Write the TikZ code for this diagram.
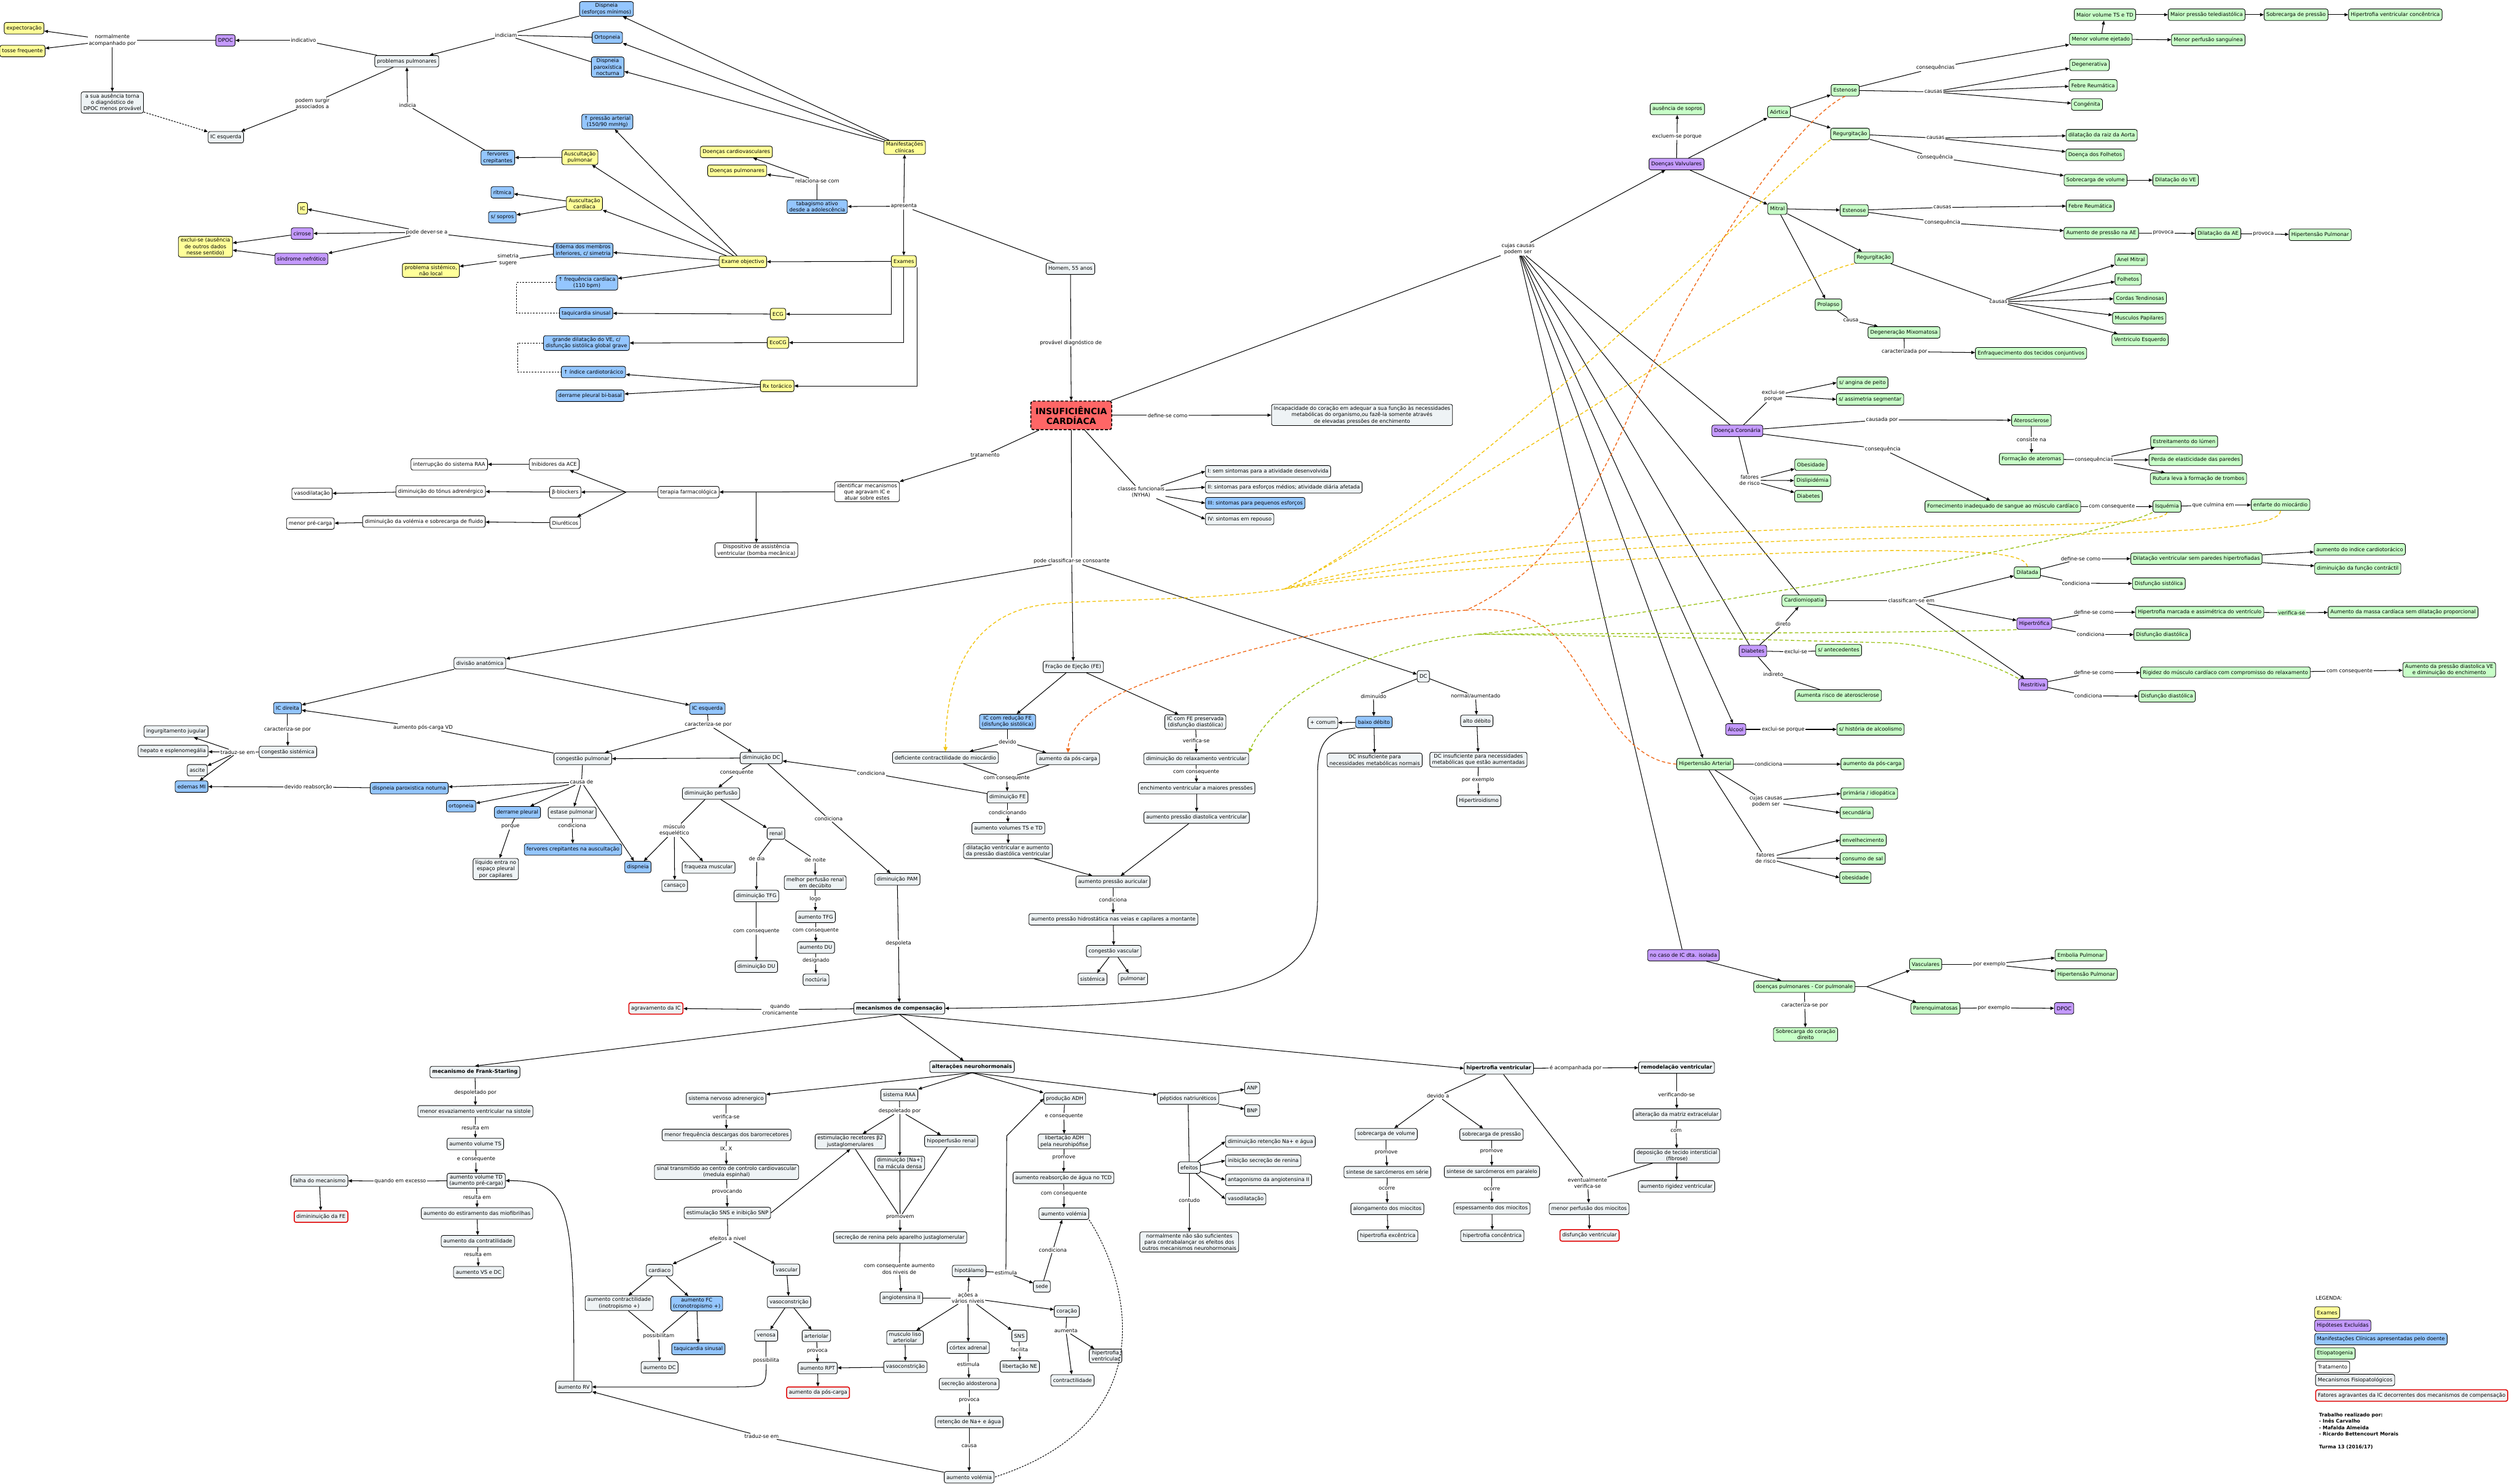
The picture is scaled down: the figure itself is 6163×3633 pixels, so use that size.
\documentclass[tikz,border=0pt]{standalone}
\usepackage{fontspec}
\setmainfont{DejaVu Sans}
\usetikzlibrary{arrows.meta,calc}
\definecolor{yel}{HTML}{FFFF99}
\definecolor{blu}{HTML}{94C6FF}
\definecolor{pur}{HTML}{C49AFF}
\definecolor{grn}{HTML}{C8FFC8}
\definecolor{gry}{HTML}{EEF3F5}
\definecolor{icred}{HTML}{FF6666}
\definecolor{agr}{HTML}{E00000}
\definecolor{dy}{HTML}{F2C40F}
\definecolor{dor}{HTML}{F06A1A}
\definecolor{dgr}{HTML}{9CC31A}
\newcommand\nff{\fontsize{9}{11}\selectfont}
\begin{document}
\begin{tikzpicture}[x=0.025cm,y=-0.025cm,
 nd/.style={draw,rounded corners=3.5pt,line width=0.9pt,align=center,font=\nff,inner xsep=4pt,inner ysep=3pt,minimum height=20pt},
 ye/.style={nd,fill=yel}, bl/.style={nd,fill=blu}, pu/.style={nd,fill=pur},
 gr/.style={nd,fill=grn}, gy/.style={nd,fill=gry}, wh/.style={nd,fill=white},
 rd/.style={nd,fill=gry,draw=agr,line width=1.6pt},
 bd/.style={font=\nff\bfseries},
 lb/.style={font=\nff,inner sep=1.5pt,align=center},
 ln/.style={line width=1.1pt},
 ar/.style={ln,-{Triangle[length=6.5pt,width=5.5pt]}},
 dsh/.style={ln,dash pattern=on 3pt off 2pt},
 tip/.style={-{Triangle[length=8pt,width=7pt]}},
 cy/.style={line width=1.5pt,dash pattern=on 6pt off 4pt,draw=dy},
 co/.style={line width=1.5pt,dash pattern=on 6pt off 4pt,draw=dor},
 cg/.style={line width=1.5pt,dash pattern=on 6pt off 4pt,draw=dgr}]
\fill[white] (0,0) rectangle (6163,3633);
\useasboundingbox (0,0) rectangle (6163,3633);

% ================= TOP LEFT =================
\node[ye] (expect) at (59,69) {expectoração};
\node[ye] (tosse) at (55,125) {tosse frequente};
\node[lb] (l01) at (275,99) {normalmente\\acompanhado por};
\node[pu] (dpoc) at (552,99) {DPOC};
\node[lb] (l02) at (743,99) {indicativo};
\node[gy] (probpulm) at (996,150) {problemas pulmonares};
\node[gy] (ausen) at (275,251) {a sua ausência torna\\o diagnóstico de\\DPOC menos provável};
\node[lb] (l03) at (765,253) {podem surgir\\associados a};
\node[lb] (l04) at (998,258) {indicia};
\node[gy] (icesq1) at (553,336) {IC esquerda};
\node[bl] (dispesf) at (1485,22) {Dispneia\\(esforços mínimos)};
\node[bl] (ortop) at (1487,92) {Ortopneia};
\node[bl] (dpn) at (1488,164) {Dispneia\\paroxística\\nocturna};
\node[lb] (l05) at (1239,86) {indiciam};
\node[bl] (pa) at (1487,298) {↑ pressão arterial\\(150/90 mmHg)};
\node[bl] (ferv) at (1219,386) {fervores\\crepitantes};
\node[ye] (auscp) at (1420,385) {Auscultação\\pulmonar};
\node[bl] (ritm) at (1230,471) {rítmica};
\node[bl] (ssop) at (1230,532) {s/ sopros};
\node[ye] (auscc) at (1431,498) {Auscultação\\cardíaca};
\node[ye] (ic) at (741,510) {IC};
\node[pu] (cirr) at (740,572) {cirrose};
\node[pu] (sindn) at (738,634) {síndrome nefrótico};
\node[ye] (excl) at (503,604) {exclui-se (ausência\\de outros dados\\nesse sentido)};
\node[lb] (l06) at (1045,569) {pode dever-se a};
\node[bl] (edema) at (1428,613) {Edema dos membros\\inferiores, c/ simetria};
\node[lb] (l07) at (1244,636) {simetria\\sugere};
\node[ye] (probsist) at (1055,662) {problema sistémico,\\não local};
\node[bl] (fc) at (1437,692) {↑ frequência cardíaca\\(110 bpm)};
\node[bl] (taqui) at (1435,767) {taquicardia sinusal};
\node[bl] (dilve1) at (1436,840) {grande dilatação do VE, c/\\disfunção sistólica global grave};
\node[bl] (ict) at (1453,911) {↑ índice cardiotorácico};
\node[bl] (derrbb) at (1445,969) {derrame pleural bi-basal};
\node[ye] (manif) at (2215,361) {Manifestações\\clínicas};
\node[ye] (dcv) at (1803,372) {Doenças cardiovasculares};
\node[ye] (dpulm) at (1805,418) {Doenças pulmonares};
\node[lb] (l08) at (2001,443) {relaciona-se com};
\node[bl] (tabag) at (2001,506) {tabagismo ativo\\desde a adolescência};
\node[lb] (l09) at (2213,505) {apresenta};
\node[ye] (exobj) at (1819,641) {Exame objectivo};
\node[ye] (exames) at (2213,640) {Exames};
\node[gy] (homem) at (2621,658) {Homem, 55 anos};
\node[ye] (ecg) at (1905,769) {ECG};
\node[ye] (ecocg) at (1905,839) {EcoCG};
\node[ye] (rx) at (1903,945) {Rx torácico};
\node[lb] (l10) at (2622,839) {provável diagnóstico de};

% ================= CENTER =================
\node[draw,dash pattern=on 5pt off 3pt,line width=1.8pt,rounded corners=4pt,fill=icred,font=\fontsize{15}{17}\selectfont\bfseries,align=center,minimum width=4.95cm,minimum height=1.75cm] (icm) at (2623,1017) {INSUFICIÊNCIA\\CARDÍACA};
\node[lb] (l11) at (2859,1017) {define-se como};
\node[gy] (incap) at (3335,1016) {Incapacidade do coração em adequar a sua função às necessidades\\metabólicas do organismo,ou fazê-la somente através\\de elevadas pressões de enchimento};
\node[lb] (l12) at (2412,1114) {tratamento};
\node[wh] (ident) at (2123,1204) {identificar mecanismos\\que agravam IC e\\atuar sobre estes};
\node[wh] (terapia) at (1686,1205) {terapia farmacológica};
\node[wh] (dispos) at (1852,1347) {Dispositivo de assistência\\ventricular (bomba mecânica)};
\node[wh] (iece) at (1357,1137) {Inibidores da ACE};
\node[wh] (iraa) at (1100,1137) {interrupção do sistema RAA};
\node[wh] (beta) at (1384,1205) {β-blockers};
\node[wh] (tonus) at (1079,1203) {diminuição do tónus adrenérgico};
\node[wh] (vasod) at (764,1209) {vasodilatação};
\node[wh] (diur) at (1384,1280) {Diuréticos};
\node[wh] (dvol) at (1038,1277) {diminuição da volémia e sobrecarga de fluido};
\node[wh] (prec) at (760,1282) {menor pré-carga};
\coordinate (br0) at (1533,1205);
\node[lb] (l13) at (2794,1205) {classes funcionais\\(NYHA)};
\node[gy,anchor=west] (c1) at (2951,1154) {I: sem sintomas para a atividade desenvolvida};
\node[gy,anchor=west] (c2) at (2951,1193) {II: sintomas para esforços médios; atividade diária afetada};
\node[bl,anchor=west] (c3) at (2951,1232) {III: sintomas para pequenos esforços};
\node[gy,anchor=west] (c4) at (2951,1271) {IV: sintomas em repouso};
\node[lb] (l14) at (2624,1374) {pode classificar-se consoante};
\node[gy] (divan) at (1175,1624) {divisão anatómica};
\node[gy] (fe) at (2628,1633) {Fração de Ejeção (FE)};
\node[gy] (dc) at (3485,1656) {DC};

% ================= LEFT MID =================
\node[bl] (icdir) at (704,1734) {IC direita};
\node[lb] (l15) at (704,1786) {caracteriza-se por};
\node[gy] (congs) at (705,1841) {congestão sistémica};
\node[lb] (l16) at (582,1842) {traduz-se em};
\node[gy] (ingur) at (431,1791) {ingurgitamento jugular};
\node[gy] (hepat) at (424,1839) {hepato e esplenomegália};
\node[gy] (ascite) at (483,1886) {ascite};
\node[bl] (edmi) at (469,1926) {edemas MI};
\node[lb] (l17) at (755,1927) {devido reabsorção};
\node[bl] (dpn2) at (1002,1930) {dispneia paroxistica noturna};
\node[lb] (l18) at (1036,1781) {aumento pós-carga VD};
\node[gy] (congp) at (1427,1858) {congestão pulmonar};
\node[lb] (l19) at (1424,1915) {causa de};
\node[bl] (ortop2) at (1129,1974) {ortopneia};
\node[bl] (derr) at (1267,1989) {derrame pleural};
\node[gy] (estase) at (1401,1990) {estase pulmonar};
\node[bl] (icesq2) at (1732,1735) {IC esquerda};
\node[lb] (l20) at (1734,1774) {caracteriza-se por};
\node[gy] (dimdc) at (1864,1856) {diminuição DC};
\node[lb] (l21) at (1804,1892) {consequente};
\node[gy] (dimperf) at (1741,1943) {diminuição perfusão};
\node[lb] (l22) at (2133,1893) {condiciona};
\node[bl] (icred) at (2467,1767) {IC com redução FE\\(disfunção sistólica)};
\node[gy] (icpres) at (2927,1768) {IC com FE preservada\\(disfunção diastólica)};
\node[lb] (l23) at (2467,1817) {devido};
\node[gy] (defc) at (2315,1855) {deficiente contractilidade do miocárdio};
\node[gy] (aposc) at (2615,1858) {aumento da pós-carga};
\node[lb] (l24) at (2465,1906) {com consequente};
\node[gy] (dimfe) at (2467,1952) {diminuição FE};
\node[lb] (l25) at (2467,1990) {condicionando};
\node[lb] (l26) at (2929,1813) {verifica-se};
\node[gy] (dimrel) at (2929,1858) {diminuição do relaxamento ventricular};
\node[lb] (l27) at (2929,1890) {com consequente};
\node[gy] (ench) at (2930,1930) {enchimento ventricular a maiores pressões};
\node[gy] (apdiast) at (2930,2002) {aumento pressão diastolica ventricular};

% DC
\node[lb] (l28) at (3363,1705) {diminuído};
\node[lb] (l29) at (3613,1705) {normal/aumentado};
\node[bl] (baixo) at (3364,1768) {baixo débito};
\node[gy] (comum) at (3239,1770) {+ comum};
\node[gy] (alto) at (3616,1765) {alto débito};
\node[gy] (dcins1) at (3366,1861) {DC insuficiente para\\necessidades metabólicas normais};
\node[gy] (dcins2) at (3620,1860) {DC insuficiente para necessidades\\metabólicas que estão aumentadas};
\node[lb] (l30) at (3619,1909) {por exemplo};
\node[gy] (hipert) at (3621,1961) {Hipertiroidismo};

% ================= RIGHT TOP (valvular) =================
\node[gr] (aussop) at (4107,267) {ausência de sopros};
\node[lb] (l31) at (4106,334) {excluem-se porque};
\node[pu] (valv) at (4105,402) {Doenças Valvulares};
\node[gr] (aort) at (4356,274) {Aórtica};
\node[gr] (estA) at (4518,221) {Estenose};
\node[gr] (regA) at (4530,328) {Regurgitação};
\node[gr] (mitral) at (4352,511) {Mitral};
\node[gr] (estM) at (4540,515) {Estenose};
\node[gr] (regM) at (4588,631) {Regurgitação};
\node[gr] (prol) at (4477,746) {Prolapso};
\node[lb] (l32) at (4532,784) {causa};
\node[gr] (degmix) at (4662,814) {Degeneração Mixomatosa};
\node[lb] (l33) at (4663,861) {caracterizada por};
\node[gr] (enfraq) at (4973,865) {Enfraquecimento dos tecidos conjuntivos};
\node[lb] (l34) at (3717,610) {cujas causas\\podem ser};
\node[gr,anchor=west] (angina) at (4497,937) {s/ angina de peito};
\node[gr,anchor=west] (assim) at (4496,978) {s/ assimetria segmentar};
\node[lb] (l35) at (4342,969) {exclui-se\\porque};
\node[gr] (maiorvol) at (5154,36) {Maior volume TS e TD};
\node[gr] (maiorp) at (5403,36) {Maior pressão telediastólica};
\node[gr] (sobrp) at (5622,36) {Sobrecarga de pressão};
\node[gr] (hipconc) at (5865,36) {Hipertrofia ventricular concêntrica};
\node[gr] (menorvol) at (5144,96) {Menor volume ejetado};
\node[gr] (menorperf) at (5407,98) {Menor perfusão sanguínea};
\node[lb] (l36) at (4739,166) {consequências};
\node[gr] (degen) at (5116,159) {Degenerativa};
\node[gr] (febre1) at (5125,209) {Febre Reumática};
\node[gr] (cong) at (5110,256) {Congénita};
\node[lb] (l37) at (4734,225) {causas};
\node[gr] (raiz) at (5146,331) {dilatação da raiz da Aorta};
\node[gr] (folh) at (5130,379) {Doença dos Folhetos};
\node[lb] (l38) at (4739,338) {causas};
\node[lb] (l39) at (4738,385) {consequência};
\node[gr] (sobrvol) at (5131,441) {Sobrecarga de volume};
\node[gr] (dilve) at (5327,441) {Dilatação do VE};
\node[gr] (febre2) at (5118,504) {Febre Reumática};
\node[lb] (l40) at (4756,508) {causas};
\node[lb] (l41) at (4756,545) {consequência};
\node[gr] (aumpae) at (5145,571) {Aumento de pressão na AE};
\node[lb] (l42) at (5297,571) {provoca};
\node[gr] (dilae) at (5431,572) {Dilatação da AE};
\node[lb] (l43) at (5542,573) {provoca};
\node[gr] (hpulm) at (5681,575) {Hipertensão Pulmonar};
\node[gr] (anel) at (5218,636) {Anel Mitral};
\node[gr] (folhetos) at (5211,684) {Folhetos};
\node[gr] (cordas) at (5240,730) {Cordas Tendinosas};
\node[gr] (musc) at (5238,779) {Musculos Papilares};
\node[gr] (ve) at (5240,832) {Ventriculo Esquerdo};
\node[lb] (l44) at (4893,739) {causas};

% ================= RIGHT MID (coronary, cardiomyopathy) =================
\node[pu] (dcor) at (4254,1055) {Doença Coronária};
\node[lb] (l45) at (4608,1028) {causada por};
\node[gr] (ateros) at (4974,1029) {Aterosclerose};
\node[lb] (l46) at (4974,1077) {consiste na};
\node[gr] (ateromas) at (4974,1124) {Formação de ateromas};
\node[lb] (l47) at (5127,1126) {consequências};
\node[gr] (estreit) at (5348,1081) {Estreitamento do lúmen};
\node[gr] (perda) at (5376,1126) {Perda de elasticidade das paredes};
\node[gr] (rutura) at (5383,1172) {Rutura leva à formação de trombos};
\node[lb] (l48) at (4610,1100) {consequência};
\node[gr] (fornec) at (4904,1240) {Fornecimento inadequado de sangue ao músculo cardíaco};
\node[lb] (l49) at (5171,1240) {com consequente};
\node[gr] (isq) at (5306,1240) {Isquémia};
\node[lb] (l50) at (5419,1237) {que culmina em};
\node[gr] (enfarte) at (5584,1236) {enfarte do miocárdio};
\node[gr] (obes) at (4434,1138) {Obesidade};
\node[gr] (dislip) at (4438,1177) {Dislipidémia};
\node[gr] (diab1) at (4428,1215) {Diabetes};
\node[lb] (l51) at (4284,1176) {fatores\\de risco};
\node[gr] (cardiom) at (4417,1471) {Cardiomiopatia};
\node[pu] (diab2) at (4292,1594) {Diabetes};
\node[lb] (l52) at (4366,1528) {direto};
\node[lb] (l53) at (4397,1596) {exclui-se};
\node[gr] (santec) at (4502,1592) {s/ antecedentes};
\node[lb] (l54) at (4342,1651) {indireto};
\node[gr] (aumrisco) at (4501,1703) {Aumenta risco de aterosclerose};
\node[pu] (alcool) at (4250,1786) {Álcool};
\node[lb] (l55) at (4366,1786) {exclui-se porque};
\node[gr,anchor=west] (shist) at (4497,1786) {s/ história de alcoolismo};
\node[gr] (hta) at (4175,1871) {Hipertensão Arterial};
\node[lb] (l56) at (4330,1871) {condiciona};
\node[gr,anchor=west] (aposcg) at (4507,1871) {aumento da pós-carga};
\node[lb] (l57) at (4324,1962) {cujas causas\\podem ser};
\node[gr,anchor=west] (prim) at (4507,1943) {primária / idiopática};
\node[gr,anchor=west] (secund) at (4505,1990) {secundária};
\node[lb] (l58) at (4680,1471) {classificam-se em};
\node[gr] (dilatada) at (4964,1402) {Dilatada};
\node[lb] (l59) at (5095,1368) {define-se como};
\node[gr] (dilvent) at (5378,1368) {Dilatação ventricular sem paredes hipertrofiadas};
\node[gr] (aumict) at (5778,1345) {aumento do indice cardiotorácico};
\node[gr] (dimfunc) at (5773,1392) {diminuição da função contráctil};
\node[lb] (l60) at (5083,1428) {condiciona};
\node[gr] (disfs) at (5286,1429) {Disfunção sistólica};
\node[pu] (hipertrof) at (4981,1527) {Hipertrófica};
\node[lb] (l61) at (5127,1499) {define-se como};
\node[gr] (hipmarc) at (5386,1499) {Hipertrofia marcada e assimétrica do ventrículo};
\node[lb,fill=grn] (l62) at (5611,1500) {verifica-se};
\node[gr] (aummassa) at (5884,1499) {Aumento da massa cardíaca sem dilatação proporcional};
\node[lb] (l63) at (5119,1554) {condiciona};
\node[gr] (disfd1) at (5294,1554) {Disfunção diastólica};
\node[pu] (restr) at (4978,1676) {Restritiva};
\node[lb] (l64) at (5127,1647) {define-se como};
\node[gr] (rigidez) at (5449,1647) {Rigidez do músculo cardíaco com compromisso do relaxamento};
\node[lb] (l65) at (5753,1643) {com consequente};
\node[gr] (aumpdve) at (5997,1640) {Aumento da pressão diastolica VE\\e diminuição do enchimento};
\node[lb] (l66) at (5113,1704) {condiciona};
\node[gr] (disfd2) at (5306,1705) {Disfunção diastólica};

% ================= BOTTOM =================
\node[lb] (l67) at (1250,2024) {porque};
\node[gy] (liq) at (1214,2128) {líquido entra no\\espaço pleural\\por capilares};
\node[lb] (l68) at (1401,2022) {condiciona};
\node[bl] (fervaus) at (1403,2080) {fervores crepitantes na auscultação};
\node[bl] (dispn) at (1562,2123) {dispneia};
\node[lb] (l69) at (1651,2033) {músculo\\esquelético};
\node[gy] (cansaco) at (1652,2169) {cansaço};
\node[gy] (fraq) at (1735,2124) {fraqueza muscular};
\node[gy] (renal) at (1900,2041) {renal};
\node[lb] (l70) at (1853,2103) {de dia};
\node[lb] (l71) at (1996,2105) {de noite};
\node[gy] (dimtfg) at (1852,2194) {diminuição TFG};
\node[gy] (melhor) at (1996,2161) {melhor perfusão renal\\em decúbito};
\node[lb] (l72) at (1996,2202) {logo};
\node[gy] (aumtfg) at (1997,2245) {aumento TFG};
\node[lb] (l73) at (1852,2280) {com consequente};
\node[lb] (l74) at (1997,2279) {com consequente};
\node[gy] (aumdu) at (1998,2320) {aumento DU};
\node[lb] (l75) at (1998,2352) {designado};
\node[gy] (noct) at (1998,2399) {noctúria};
\node[gy] (dimdu) at (1852,2367) {diminuição DU};
\node[lb] (l76) at (2029,2005) {condiciona};
\node[gy] (dimpam) at (2197,2153) {diminuição PAM};
\node[lb] (l77) at (2200,2310) {despoleta};
\node[gy,bd] (mecomp) at (2202,2469) {mecanismos de compensação};
\node[lb] (l78) at (1910,2472) {quando\\cronicamente};
\node[rd] (agrav) at (1606,2469) {agravamento da IC};
\node[gy] (aumvol) at (2469,2028) {aumento volumes TS e TD};
\node[gy] (dilv2) at (2468,2084) {dilatação ventricular e aumento\\da pressão diastólica ventricular};
\node[gy] (apaur) at (2725,2159) {aumento pressão auricular};
\node[lb] (l79) at (2725,2203) {condiciona};
\node[gy] (aphid) at (2726,2251) {aumento pressão hidrostática nas veias e capilares a montante};
\node[gy] (congv) at (2727,2329) {congestão vascular};
\node[gy] (sistem) at (2675,2397) {sistémica};
\node[gy] (pulmo) at (2774,2397) {pulmonar};
\node[gy,bd] (altn) at (2380,2612) {alterações neurohormonais};
\node[gy] (sna) at (1778,2690) {sistema nervoso adrenergico};
\node[gy] (sraa) at (2202,2681) {sistema RAA};
\node[gy] (padh) at (2607,2690) {produção ADH};
\node[gy] (pept) at (2909,2690) {péptidos natriuréticos};
\node[gy] (anp) at (3066,2664) {ANP};
\node[gy] (bnp) at (3066,2719) {BNP};
\node[lb] (l80) at (1778,2734) {verifica-se};
\node[gy] (menf) at (1779,2779) {menor frequência descargas dos barorrecetores};
\node[lb] (l81) at (1778,2814) {IX, X};
\node[gy] (sinal) at (1779,2870) {sinal transmitido ao centro de controlo cardiovascular\\(medula espinhal)};
\node[lb] (l82) at (1780,2918) {provocando};
\node[gy] (estsns) at (1781,2970) {estimulação SNS e inibição SNP};
\node[lb] (l83) at (1782,3033) {efeitos a nivel};
\node[gy] (cardiaco) at (1615,3110) {cardiaco};
\node[gy] (vascular) at (1926,3109) {vascular};
\node[gy] (aumcontr) at (1516,3191) {aumento contractilidade\\(inotropismo +)};
\node[bl] (aumfc) at (1706,3192) {aumento FC\\(cronotropismo +)};
\node[lb] (l84) at (1613,3271) {possibilitam};
\node[bl] (taqui2) at (1710,3303) {taquicardia sinusal};
\node[gy] (aumdc) at (1615,3348) {aumento DC};
\node[gy] (vasoc1) at (1932,3188) {vasoconstrição};
\node[gy] (venosa) at (1876,3270) {venosa};
\node[gy] (arteriolar) at (1999,3271) {arteriolar};
\node[lb] (l85) at (2001,3308) {provoca};
\node[lb] (l86) at (1876,3331) {possibilita};
\node[gy] (aumrpt) at (2002,3350) {aumento RPT};
\node[rd] (aposred) at (2003,3410) {aumento da pós-carga};
\node[gy] (aumrv) at (1405,3396) {aumento RV};
\node[lb] (l87) at (1865,3517) {traduz-se em};
\node[gy] (estb2) at (2082,2795) {estimulação recetores β2\\justaglomerulares};
\node[gy] (hipoperf) at (2329,2794) {hipoperfusão renal};
\node[lb] (l88) at (2203,2720) {despoletado por};
\node[gy] (dimna) at (2203,2848) {diminuição [Na+]\\na mácula densa};
\node[lb] (l89) at (2204,2980) {promovem};
\node[gy] (renina) at (2204,3030) {secreção de renina pelo aparelho justaglomerular};
\node[lb] (l90) at (2202,3107) {com consequente aumento\\dos niveis de};
\node[gy] (angio) at (2207,3178) {angiotensina II};
\node[lb] (l91) at (2370,3178) {ações a\\vários niveis};
\node[gy] (hipot) at (2373,3112) {hipotálamo};
\node[lb] (l92) at (2463,3116) {estimula};
\coordinate (bp1) at (2465,2781);
\node[gy] (sede) at (2551,3150) {sede};
\node[lb] (l93) at (2578,3061) {condiciona};
\node[gy] (coracao) at (2612,3211) {coração};
\node[lb] (l94) at (2610,3259) {aumenta};
\node[gy] (hipv2) at (2707,3320) {hipertrofia\\ventricular};
\node[gy] (contrat) at (2626,3380) {contractilidade};
\node[gy] (musliso) at (2216,3275) {musculo liso\\arteriolar};
\node[gy] (vasoc2) at (2217,3347) {vasoconstrição};
\node[gy] (cortex) at (2371,3300) {córtex adrenal};
\node[lb] (l95) at (2371,3341) {estimula};
\node[gy] (aldost) at (2373,3389) {secreção aldosterona};
\node[lb] (l96) at (2373,3429) {provoca};
\node[gy] (reten) at (2373,3482) {retenção de Na+ e água};
\node[lb] (l97) at (2373,3541) {causa};
\node[gy] (aumvolb) at (2373,3617) {aumento volémia};
\node[gy] (sns) at (2496,3271) {SNS};
\node[lb] (l98) at (2496,3304) {facilita};
\node[gy] (libne) at (2497,3346) {libertação NE};
\node[lb] (l99) at (2605,2733) {e consequente};
\node[gy] (libadh) at (2606,2795) {libertação ADH\\pela neurohipófise};
\node[lb] (l100) at (2605,2835) {promove};
\node[gy] (reabs) at (2604,2884) {aumento reabsorção de água no TCD};
\node[lb] (l101) at (2605,2922) {com consequente};
\node[gy] (aumvolm) at (2605,2972) {aumento volémia};
\node[gy] (efeitos) at (2912,2859) {efeitos};
\node[gy,anchor=west] (ef1) at (3000,2795) {diminuição retenção Na+ e água};
\node[gy,anchor=west] (ef2) at (3000,2842) {inibição secreção de renina};
\node[gy,anchor=west] (ef3) at (3000,2889) {antagonismo da angiotensina II};
\node[gy,anchor=west] (ef4) at (3000,2936) {vasodilatação};
\node[lb] (l102) at (2912,2939) {contudo};
\node[gy] (normal) at (2912,3041) {normalmente não são suficientes\\para contrabalançar os efeitos dos\\outros mecanismos neurohormonais};

% Frank-Starling
\node[gy,bd] (fs) at (1163,2625) {mecanismo de Frank-Starling};
\node[lb] (l103) at (1164,2676) {despoletado por};
\node[gy] (menesv) at (1164,2721) {menor esvaziamento ventricular na sistole};
\node[lb] (l104) at (1164,2761) {resulta em};
\node[gy] (aumts) at (1164,2801) {aumento volume TS};
\node[lb] (l105) at (1166,2839) {e consequente};
\node[gy] (aumtd) at (1166,2891) {aumento volume TD\\(aumento pré-carga)};
\node[lb] (l106) at (980,2892) {quando em excesso};
\node[gy] (falha) at (782,2891) {falha do mecanismo};
\node[rd] (dimfe2) at (786,2979) {dimininuição da FE};
\node[lb] (l107) at (1168,2931) {resulta em};
\node[gy] (estir) at (1168,2971) {aumento do estiramento das miofibrilhas};
\node[gy] (aumcontr2) at (1170,3039) {aumento da contratilidade};
\node[lb] (l108) at (1170,3072) {resulta em};
\node[gy] (aumvsdc) at (1172,3115) {aumento VS e DC};

% Hipertrofia
\node[gy,bd] (hipv) at (3670,2616) {hipertrofia ventricular};
\node[lb] (l109) at (3858,2615) {é acompanhada por};
\node[gy,bd] (remod) at (4105,2614) {remodelação ventricular};
\node[lb] (l110) at (4105,2680) {verificando-se};
\node[gy] (matriz) at (4106,2729) {alteração da matriz extracelular};
\node[lb] (l111) at (4104,2769) {com};
\node[gy] (depos) at (4106,2830) {deposição de tecido intersticial\\(fibrose)};
\node[gy] (rig2) at (4105,2905) {aumento rigidez ventricular};
\node[lb] (l112) at (3521,2684) {devido a};
\node[gy] (sobv) at (3394,2777) {sobrecarga de volume};
\node[gy] (sobp) at (3652,2778) {sobrecarga de pressão};
\node[lb] (l113) at (3394,2822) {promove};
\node[lb] (l114) at (3652,2820) {promove};
\node[gy] (sser) at (3397,2870) {sintese de sarcómeros em série};
\node[gy] (spar) at (3653,2869) {sintese de sarcómeros em paralelo};
\node[lb] (l115) at (3396,2910) {ocorre};
\node[lb] (l116) at (3653,2912) {ocorre};
\node[gy] (along) at (3397,2960) {alongamento dos miocitos};
\node[gy] (espess) at (3653,2959) {espessamento dos miocitos};
\node[gy] (hexc) at (3398,3026) {hipertrofia excêntrica};
\node[gy] (hconc) at (3654,3026) {hipertrofia concêntrica};
\node[lb] (l117) at (3887,2897) {eventualmente\\verifica-se};
\node[gy] (menpm) at (3891,2960) {menor perfusão dos miocitos};
\node[rd] (disfv) at (3892,3025) {disfunção ventricular};

% IC direita isolada
\node[pu] (icdta) at (4122,2339) {no caso de IC dta. isolada};
\node[gr] (corp) at (4418,2416) {doenças pulmonares - Cor pulmonale};
\node[lb] (l118) at (4419,2462) {caracteriza-se por};
\node[gr] (sobrcd) at (4421,2533) {Sobrecarga do coração\\direito};
\node[gr,anchor=west] (envelh) at (4505,2057) {envelhecimento};
\node[gr,anchor=west] (sal) at (4505,2102) {consumo de sal};
\node[gr,anchor=west] (obes2) at (4504,2149) {obesidade};
\node[lb] (l119) at (4323,2101) {fatores\\de risco};
\coordinate (br2) at (4571,2416);
\node[gr] (vasc) at (4715,2361) {Vasculares};
\node[lb] (l120) at (4871,2361) {por exemplo};
\node[gr] (embolia) at (5095,2339) {Embolia Pulmonar};
\node[gr] (hpulm2) at (5108,2386) {Hipertensão Pulmonar};
\node[gr] (parenq) at (4739,2469) {Parenquimatosas};
\node[lb] (l121) at (4882,2468) {por exemplo};
\node[pu] (dpoc2) at (5054,2469) {DPOC};

% Legend
\node[anchor=west,font=\nff,inner sep=0pt] (legt) at (5670,3178) {LEGENDA:};
\node[ye,anchor=west] (lg1) at (5667,3214) {Exames};
\node[pu,anchor=west] (lg2) at (5667,3246) {Hipóteses Excluídas};
\node[bl,anchor=west] (lg3) at (5667,3279) {Manifestações Clínicas apresentadas pelo doente};
\node[gr,anchor=west] (lg4) at (5667,3314) {Etiopatogenia};
\node[wh,anchor=west] (lg5) at (5669,3347) {Tratamento};
\node[gy,anchor=west] (lg6) at (5669,3379) {Mecanismos Fisiopatológicos};
\node[rd,anchor=west] (lg7) at (5669,3417) {Fatores agravantes da IC decorrentes dos mecanismos de compensação};
\node[anchor=north west,align=left,font=\fontsize{8.5}{11.3}\selectfont\bfseries,inner sep=0pt] (cred) at (5678,3459) {Trabalho realizado por:\\- Inês Carvalho\\- Mafalda Almeida\\- Ricardo Bettencourt Morais\\[11pt]Turma 13 (2016/17)};

% ================= CONNECTORS: top-left =================
\draw[ln] (dpoc) -- (l01);
\draw[ar] (l01) -- (expect);
\draw[ar] (l01) -- (tosse);
\draw[ar] (l01) -- (ausen);
\draw[ln] (probpulm) -- (l02); \draw[ar] (l02) -- (dpoc);
\draw[ln] (probpulm) -- (l03); \draw[ar] (l03) -- (icesq1);
\draw[ar,dash pattern=on 3pt off 2pt] (ausen) -- (icesq1);
\draw[ln] (ferv) -- (l04); \draw[ar] (l04) -- (probpulm);
\draw[ln] (dispesf) -- (l05); \draw[ln] (ortop) -- (l05); \draw[ln] (dpn) -- (l05);
\draw[ar] (l05) -- (probpulm);
\draw[ar] (manif) -- (dispesf); \draw[ar] (manif) -- (ortop); \draw[ar] (manif) -- (dpn);
\draw[ar] (auscp) -- (ferv);
\draw[ar] (auscc) -- (ritm); \draw[ar] (auscc) -- (ssop);
\draw[ln] (edema) -- (l06); \draw[ar] (l06) -- (ic); \draw[ar] (l06) -- (cirr); \draw[ar] (l06) -- (sindn);
\draw[ar] (cirr) -- (excl); \draw[ar] (sindn) -- (excl);
\draw[ln] (edema) -- (l07); \draw[ar] (l07) -- (probsist);
\draw[dsh] (fc.west) -- ++(-96,0) |- (taqui.west);
\draw[dsh] (dilve1.west) -- ++(-63,0) |- (ict.west);
\draw[ar] (exobj) -- (pa); \draw[ar] (exobj) -- (auscp); \draw[ar] (exobj) -- (auscc);
\draw[ar] (exobj) -- (edema); \draw[ar] (exobj) -- (fc);
\draw[ar] (ecg) -- (taqui); \draw[ar] (ecocg) -- (dilve1);
\draw[ar] (rx) -- (ict); \draw[ar] (rx) -- (derrbb);
\draw[ar] (exames) -- (exobj);
\draw[ar] ($(exames.south)+(-31,0)$) |- (ecg.east);
\draw[ar] (exames.south) |- (ecocg.east);
\draw[ar] ($(exames.south)+(32,0)$) |- (rx.east);
\draw[ln] (homem) -- (l09); \draw[ar] (l09) -- (manif); \draw[ar] (l09) -- (tabag); \draw[ar] (l09) -- (exames);
\draw[ln] (tabag) -- (l08); \draw[ar] (l08) -- (dcv); \draw[ar] (l08) -- (dpulm);
\draw[ln] (homem) -- (l10); \draw[ar] (l10) -- (icm);

% ================= CONNECTORS: IC main =================
\draw[ln] (icm) -- (l11); \draw[ar] (l11) -- (incap);
\draw[ln] (icm) -- (l12); \draw[ar] (l12) -- (ident);
\draw[ar] (ident) -- (terapia);
\draw[ar] (dispos.north |- ident.west) -- (dispos.north);
\draw[ln] (terapia) -- (br0); \draw[ar] (br0) -- (iece); \draw[ar] (br0) -- (beta); \draw[ar] (br0) -- (diur);
\draw[ar] (iece) -- (iraa); \draw[ar] (beta) -- (tonus); \draw[ar] (tonus) -- (vasod);
\draw[ar] (diur) -- (dvol); \draw[ar] (dvol) -- (prec);
\draw[ln] (icm) -- (l13);
\draw[ar] (l13) -- (c1.west); \draw[ar] (l13) -- (c2.west); \draw[ar] (l13) -- (c3.west); \draw[ar] (l13) -- (c4.west);
\draw[ln] (icm) -- (l14); \draw[ar] (l14) -- (divan); \draw[ar] (l14) -- (fe); \draw[ar] (l14) -- (dc);
\draw[ln] (icm) -- (l34);
\draw[ar] (l34) -- (valv); \draw[ln] (l34) -- (dcor); \draw[ln] (l34) -- (cardiom);
\draw[ln] (l34) -- (diab2); \draw[ar] (l34) -- (alcool); \draw[ar] (l34) -- (hta); \draw[ln] (l34) -- (icdta);

% ================= CONNECTORS: left mid =================
\draw[ar] (divan) -- (icdir); \draw[ar] (divan) -- (icesq2);
\draw[ln] (icdir) -- (l15); \draw[ar] (l15) -- (congs);
\draw[ln] (congs) -- (l16);
\draw[ar] (l16) -- (ingur); \draw[ar] (l16) -- (hepat); \draw[ar] (l16) -- (ascite); \draw[ar] (l16) -- (edmi);
\draw[ln] (dpn2) -- (l17); \draw[ar] (l17) -- (edmi);
\draw[ln] (congp) -- (l18); \draw[ar] (l18) -- (icdir);
\draw[ln] (congp) -- (l19);
\draw[ar] (l19) -- (dpn2); \draw[ar] (l19) -- (ortop2); \draw[ar] (l19) -- (derr); \draw[ar] (l19) -- (estase); \draw[ar] (l19) -- (dispn);
\draw[ln] (icesq2) -- (l20); \draw[ar] (l20) -- (congp); \draw[ar] (l20) -- (dimdc);
\draw[ar] (dimdc) -- (congp);
\draw[ln] (dimdc) -- (l21); \draw[ar] (l21) -- (dimperf);
\draw[ln] (dimfe) -- (l22); \draw[ar] (l22) -- (dimdc);
\draw[ar] (fe) -- (icred); \draw[ar] (fe) -- (icpres);
\draw[ln] (icred) -- (l23); \draw[ar] (l23) -- (defc); \draw[ar] (l23) -- (aposc);
\draw[ln] (defc) -- (l24); \draw[ln] (aposc) -- (l24); \draw[ar] (l24) -- (dimfe);
\draw[ln] (dimfe) -- (l25); \draw[ar] (l25) -- (aumvol);
\draw[ln] (icpres) -- (l26); \draw[ar] (l26) -- (dimrel);
\draw[ln] (dimrel) -- (l27); \draw[ar] (l27) -- (ench);
\draw[ar] (ench) -- (apdiast);
\draw[ar] (aumvol) -- (dilv2); \draw[ar] (dilv2) -- (apaur); \draw[ar] (apdiast) -- (apaur);
\draw[ln] (apaur) -- (l79); \draw[ar] (l79) -- (aphid); \draw[ar] (aphid) -- (congv);
\draw[ar] (congv) -- (sistem); \draw[ar] (congv) -- (pulmo);
\draw[ln] (dimdc) -- (l76); \draw[ar] (l76) -- (dimpam);
\draw[ln] (dimpam) -- (l77); \draw[ar] (l77) -- (mecomp);
\draw[ln] (dimperf) -- (l69); \draw[ar] (l69) -- (dispn); \draw[ar] (l69) -- (cansaco); \draw[ar] (l69) -- (fraq);
\draw[ar] (dimperf) -- (renal);
\draw[ln] (renal) -- (l70); \draw[ar] (l70) -- (dimtfg); \draw[ln] (dimtfg) -- (l73); \draw[ar] (l73) -- (dimdu);
\draw[ln] (renal) -- (l71); \draw[ar] (l71) -- (melhor); \draw[ln] (melhor) -- (l72); \draw[ar] (l72) -- (aumtfg);
\draw[ln] (aumtfg) -- (l74); \draw[ar] (l74) -- (aumdu); \draw[ln] (aumdu) -- (l75); \draw[ar] (l75) -- (noct);
\draw[ln] (derr) -- (l67); \draw[ar] (l67) -- (liq);
\draw[ln] (estase) -- (l68); \draw[ar] (l68) -- (fervaus);

% DC
\draw[ln] (dc) -- (l28); \draw[ar] (l28) -- (baixo);
\draw[ln] (dc) -- (l29); \draw[ar] (l29) -- (alto);
\draw[ar] (baixo) -- (comum); \draw[ar] (baixo) -- (dcins1);
\draw[ar] (alto) -- (dcins2); \draw[ln] (dcins2) -- (l30); \draw[ar] (l30) -- (hipert);
\draw[ar] (baixo.south west) .. controls (3240,1790) and (3226,1830) .. (3226,1900) -- (3226,2200) .. controls (3226,2420) and (3050,2462) .. (mecomp.east);

% ================= CONNECTORS: valvular =================
\draw[ln] (valv) -- (l31); \draw[ar] (l31) -- (aussop);
\draw[ar] (valv) -- (aort); \draw[ar] (valv) -- (mitral);
\draw[ar] (aort) -- (estA); \draw[ar] (aort) -- (regA);
\draw[ar] (mitral) -- (estM); \draw[ar] (mitral) -- (regM); \draw[ar] (mitral) -- (prol);
\draw[ln] (estA) -- (l36); \draw[ar] (l36) -- (menorvol);
\draw[ar] (menorvol) -- (maiorvol); \draw[ar] (menorvol) -- (menorperf);
\draw[ar] (maiorvol) -- (maiorp); \draw[ar] (maiorp) -- (sobrp); \draw[ar] (sobrp) -- (hipconc);
\draw[ln] (estA) -- (l37); \draw[ar] (l37) -- (degen); \draw[ar] (l37) -- (febre1); \draw[ar] (l37) -- (cong);
\draw[ln] (regA) -- (l38); \draw[ar] (l38) -- (raiz); \draw[ar] (l38) -- (folh);
\draw[ln] (regA) -- (l39); \draw[ar] (l39) -- (sobrvol); \draw[ar] (sobrvol) -- (dilve);
\draw[ln] (estM) -- (l40); \draw[ar] (l40) -- (febre2);
\draw[ln] (estM) -- (l41); \draw[ar] (l41) -- (aumpae);
\draw[ln] (aumpae) -- (l42); \draw[ar] (l42) -- (dilae); \draw[ln] (dilae) -- (l43); \draw[ar] (l43) -- (hpulm);
\draw[ln] (regM) -- (l44);
\draw[ar] (l44) -- (anel); \draw[ar] (l44) -- (folhetos); \draw[ar] (l44) -- (cordas); \draw[ar] (l44) -- (musc); \draw[ar] (l44) -- (ve);
\draw[ln] (prol) -- (l32); \draw[ar] (l32) -- (degmix);
\draw[ln] (degmix) -- (l33); \draw[ar] (l33) -- (enfraq);

% coronary etc.
\draw[ln] (dcor) -- (l45); \draw[ar] (l45) -- (ateros);
\draw[ln] (ateros) -- (l46); \draw[ar] (l46) -- (ateromas);
\draw[ln] (ateromas) -- (l47); \draw[ar] (l47) -- (estreit); \draw[ar] (l47) -- (perda); \draw[ar] (l47) -- (rutura);
\draw[ln] (dcor) -- (l48); \draw[ar] (l48) -- (fornec);
\draw[ln] (fornec) -- (l49); \draw[ar] (l49) -- (isq);
\draw[ln] (isq) -- (l50); \draw[ar] (l50) -- (enfarte);
\draw[ln] (dcor) -- (l51); \draw[ar] (l51) -- (obes); \draw[ar] (l51) -- (dislip); \draw[ar] (l51) -- (diab1);
\draw[ln] (dcor) -- (l35); \draw[ar] (l35) -- (angina.west); \draw[ar] (l35) -- (assim.west);
\draw[ln] (diab2) -- (l52); \draw[ar] (l52) -- (cardiom);
\draw[ln] (diab2) -- (l53); \draw[ln] (l53) -- (santec);
\draw[ln] (diab2) -- (l54); \draw[ln] (l54) -- (aumrisco);
\draw[ln] (alcool) -- (l55); \draw[ar] (l55) -- (shist);
\draw[ln] (hta) -- (l56); \draw[ar] (l56) -- (aposcg);
\draw[ln] (hta) -- (l57); \draw[ar] (l57) -- (prim.west); \draw[ar] (l57) -- (secund.west);
\draw[ln] (hta) -- (l119); \draw[ar] (l119) -- (envelh.west); \draw[ar] (l119) -- (sal.west); \draw[ar] (l119) -- (obes2.west);
\draw[ln] (cardiom) -- (l58); \draw[ar] (l58) -- (dilatada); \draw[ar] (l58) -- (hipertrof); \draw[ar] (l58) -- (restr);
\draw[ln] (dilatada) -- (l59); \draw[ar] (l59) -- (dilvent);
\draw[ar] (dilvent) -- (aumict); \draw[ar] (dilvent) -- (dimfunc);
\draw[ln] (dilatada) -- (l60); \draw[ar] (l60) -- (disfs);
\draw[ln] (hipertrof) -- (l61); \draw[ar] (l61) -- (hipmarc);
\draw[ln] (hipmarc) -- (l62); \draw[ar] (l62) -- (aummassa);
\draw[ln] (hipertrof) -- (l63); \draw[ar] (l63) -- (disfd1);
\draw[ln] (restr) -- (l64); \draw[ar] (l64) -- (rigidez);
\draw[ln] (rigidez) -- (l65); \draw[ar] (l65) -- (aumpdve);
\draw[ln] (restr) -- (l66); \draw[ar] (l66) -- (disfd2);

% IC dta
\draw[ar] (icdta) -- (corp);
\draw[ln] (corp) -- (l118); \draw[ar] (l118) -- (sobrcd);
\draw[ln] (corp) -- (br2); \draw[ar] (br2) -- (vasc); \draw[ar] (br2) -- (parenq);
\draw[ln] (vasc) -- (l120); \draw[ar] (l120) -- (embolia); \draw[ar] (l120) -- (hpulm2);
\draw[ln] (parenq) -- (l121); \draw[ar] (l121) -- (dpoc2);

% ================= CONNECTORS: bottom =================
\draw[ln] (mecomp) -- (l78); \draw[ar] (l78) -- (agrav);
\draw[ar] (mecomp.south) -- (fs.north);
\draw[ar] (mecomp.south) -- (altn);
\draw[ar] (mecomp.south) -- (hipv.west);
\draw[ar] (altn.south) -- (sna); \draw[ar] (altn.south) -- (sraa);
\draw[ar] (altn.south) -- (padh); \draw[ar] (altn.south) -- (pept);
\draw[ln] (fs) -- (l103); \draw[ar] (l103) -- (menesv);
\draw[ln] (menesv) -- (l104); \draw[ar] (l104) -- (aumts);
\draw[ln] (aumts) -- (l105); \draw[ar] (l105) -- (aumtd);
\draw[ln] (aumtd) -- (l107); \draw[ar] (l107) -- (estir);
\draw[ar] (estir) -- (aumcontr2);
\draw[ln] (aumcontr2) -- (l108); \draw[ar] (l108) -- (aumvsdc);
\draw[ln] (aumtd) -- (l106); \draw[ar] (l106) -- (falha); \draw[ar] (falha) -- (dimfe2);
\draw[ln] (sna) -- (l80); \draw[ar] (l80) -- (menf);
\draw[ln] (menf) -- (l81); \draw[ar] (l81) -- (sinal);
\draw[ln] (sinal) -- (l82); \draw[ar] (l82) -- (estsns);
\draw[ln] (estsns) -- (l83); \draw[ar] (l83) -- (cardiaco); \draw[ar] (l83) -- (vascular);
\draw[ar] (estsns.east) -- (estb2.south);
\draw[ar] (cardiaco) -- (aumcontr); \draw[ar] (cardiaco) -- (aumfc);
\draw[ln] (aumcontr) -- (l84); \draw[ln] (aumfc) -- (l84); \draw[ar] (l84) -- (aumdc);
\draw[ar] (aumfc) -- (taqui2);
\draw[ar] (vascular) -- (vasoc1); \draw[ar] (vasoc1) -- (venosa); \draw[ar] (vasoc1) -- (arteriolar);
\draw[ln] (arteriolar) -- (l85); \draw[ar] (l85) -- (aumrpt); \draw[ar] (aumrpt) -- (aposred);
\draw[ln] (venosa) -- (l86);
\draw[ar] (l86.south) .. controls (1876,3396) and (1876,3396) .. (1780,3396) -- (aumrv.east);
\draw[ln] (aumvolb) -- (l87); \draw[ar] (l87) -- (aumrv);
\draw[ar] (aumrv.north) .. controls (1406,2950) and (1395,2891) .. (aumtd.east);
\draw[ln] (sraa) -- (l88); \draw[ar] (l88) -- (estb2); \draw[ar] (l88) -- (dimna); \draw[ar] (l88) -- (hipoperf);
\draw[ln] (estb2) -- (l89); \draw[ln] (dimna) -- (l89); \draw[ln] (hipoperf) -- (l89);
\draw[ar] (l89) -- (renina);
\draw[ln] (renina) -- (l90); \draw[ar] (l90) -- (angio);
\draw[ln] (angio) -- (l91);
\draw[ar] (l91) -- (hipot); \draw[ar] (l91) -- (coracao); \draw[ar] (l91) -- (musliso);
\draw[ar] (l91) -- (cortex); \draw[ar] (l91) -- (sns);
\draw[ln] (hipot) -- (l92); \draw[ar] (l92) -- (sede);
\draw[ar] (l92.north) -- (bp1) -- (padh.west);
\draw[ln] (sede) -- (l93); \draw[ar] (l93) -- (aumvolm);
\draw[ln] (coracao) -- (l94); \draw[ar] (l94) -- (hipv2); \draw[ar] (l94) -- (contrat);
\draw[ar] (musliso) -- (vasoc2); \draw[ar] (vasoc2) -- (aumrpt);
\draw[ln] (cortex) -- (l95); \draw[ar] (l95) -- (aldost);
\draw[ln] (aldost) -- (l96); \draw[ar] (l96) -- (reten);
\draw[ln] (reten) -- (l97); \draw[ar] (l97) -- (aumvolb);
\draw[ln] (sns) -- (l98); \draw[ar] (l98) -- (libne);
\draw[ln] (padh) -- (l99); \draw[ar] (l99) -- (libadh);
\draw[ln] (libadh) -- (l100); \draw[ar] (l100) -- (reabs);
\draw[ln] (reabs) -- (l101); \draw[ar] (l101) -- (aumvolm);
\draw[dsh] (aumvolm.south east) .. controls (2760,3130) and (2860,3480) .. (aumvolb.east);
\draw[ar] (pept) -- (anp); \draw[ar] (pept) -- (bnp); \draw[ln] (pept) -- (efeitos);
\draw[ar] (efeitos) -- (ef1.west); \draw[ar] (efeitos) -- (ef2.west); \draw[ar] (efeitos) -- (ef3.west); \draw[ar] (efeitos) -- (ef4.west);
\draw[ln] (efeitos) -- (l102); \draw[ar] (l102) -- (normal);
\draw[ln] (hipv) -- (l109); \draw[ar] (l109) -- (remod);
\draw[ln] (remod) -- (l110); \draw[ar] (l110) -- (matriz);
\draw[ln] (matriz) -- (l111); \draw[ar] (l111) -- (depos); \draw[ar] (depos) -- (rig2);
\draw[ln] (hipv) -- (l112); \draw[ar] (l112) -- (sobv); \draw[ar] (l112) -- (sobp);
\draw[ln] (sobv) -- (l113); \draw[ar] (l113) -- (sser); \draw[ln] (sser) -- (l115); \draw[ar] (l115) -- (along); \draw[ar] (along) -- (hexc);
\draw[ln] (sobp) -- (l114); \draw[ar] (l114) -- (spar); \draw[ln] (spar) -- (l116); \draw[ar] (l116) -- (espess); \draw[ar] (espess) -- (hconc);
\draw[ln] (hipv) -- (l117); \draw[ln] (depos) -- (l117); \draw[ar] (l117) -- (menpm); \draw[ar] (menpm) -- (disfv);

% ================= coloured dashed cross-links =================
\coordinate (Y0) at (3146,1442);
\coordinate (O0) at (3590,1494);
\coordinate (G0) at (3618,1553);
\draw[cy] (regA.south west) .. controls (4390,400) and (3650,1180) .. (Y0);
\draw[cy] (regM.south west) .. controls (4330,690) and (3700,1150) .. (Y0);
\draw[cy] (isq.south) .. controls (5300,1290) and (4900,1285) .. (4623,1290) .. controls (4000,1300) and (3400,1360) .. (Y0);
\draw[cy] (enfarte.south) .. controls (5580,1300) and (5300,1305) .. (4623,1318) .. controls (4000,1330) and (3400,1380) .. (Y0);
\draw[cy] (dilatada.north) .. controls (4960,1355) and (4850,1348) .. (4623,1348) .. controls (4000,1360) and (3400,1400) .. (Y0);
\draw[cy,tip] (Y0) .. controls (2950,1472) and (2650,1468) .. (2560,1480) .. controls (2380,1500) and (2315,1650) .. (defc.north);
\draw[co] (estA.south) .. controls (4400,290) and (4150,650) .. (3996,1000) .. controls (3880,1280) and (3750,1420) .. (O0);
\draw[co] (hta.west) .. controls (3950,1860) and (3900,1640) .. (3800,1550) .. controls (3730,1490) and (3650,1490) .. (O0);
\draw[co,tip] (O0) .. controls (3350,1510) and (2900,1620) .. (2740,1700) .. controls (2650,1750) and (2617,1790) .. (aposc.north);
\draw[cg] (isq.south west) .. controls (5200,1290) and (4900,1350) .. (4623,1400) .. controls (4300,1460) and (3900,1520) .. (G0);
\draw[cg] (hipertrof.south west) .. controls (4700,1550) and (4200,1550) .. (G0);
\draw[cg] (restr.north west) .. controls (4850,1610) and (4700,1575) .. (4623,1574) .. controls (4300,1566) and (3900,1555) .. (G0);
\draw[cg,tip] (G0) .. controls (3350,1580) and (3120,1700) .. (dimrel.north east);
\end{tikzpicture}
\end{document}
